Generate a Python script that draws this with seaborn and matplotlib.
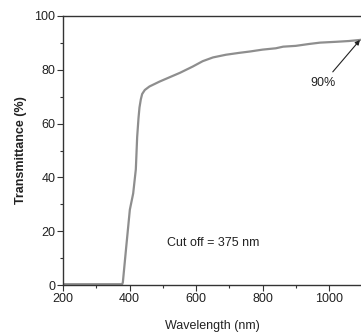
import matplotlib
matplotlib.use("Agg")
import matplotlib.pyplot as plt
import seaborn as sns
import pandas as pd
from matplotlib.ticker import MultipleLocator

# Transmittance spectrum of the film
wavelength = [200, 300, 378, 380, 390, 401, 411, 419, 423, 427, 430, 434, 438,
              446, 460, 490, 520, 552, 590, 620, 651, 690, 730, 762, 800, 840,
              862, 900, 940, 973, 1020, 1060, 1093, 1100]
transmittance = [0.3, 0.3, 0.3, 1.0, 14, 28, 34, 43, 55, 62, 66, 69, 71,
                 72.5, 73.8, 75.6, 77.2, 78.9, 81.2, 83.2, 84.6, 85.6, 86.3, 86.8, 87.5, 88.0,
                 88.6, 88.9, 89.6, 90.1, 90.4, 90.7, 91.1, 91.2]

x_ticks = [200, 400, 600, 800, 1000]
y_ticks = [0, 20, 40, 60, 80, 100]
cutoff_label = "Cut off = 375 nm"
peak_label = "90%"
peak_point = (1093, 91.1)

sns.set_style("ticks")
plt.rcParams["font.family"] = ["Liberation Sans", "DejaVu Sans"]
plt.rcParams["axes.edgecolor"] = "#333333"
plt.rcParams["xtick.color"] = "#333333"
plt.rcParams["ytick.color"] = "#333333"

df = pd.DataFrame({"Wavelength (nm)": wavelength, "Transmittance (%)": transmittance})

fig = plt.figure(figsize=(3.61, 3.34), dpi=100)
ax = fig.add_axes([63 / 361, 49 / 334, 299.3 / 361, 269 / 334])

sns.lineplot(data=df, x="Wavelength (nm)", y="Transmittance (%)", ax=ax,
             color="#8e8e8e", linewidth=1.6, sort=False)

ax.set_xlim(200, 1100)
ax.set_ylim(0, 100)
ax.set_xticks(x_ticks)
ax.set_yticks(y_ticks)
ax.xaxis.set_minor_locator(MultipleLocator(100))
ax.yaxis.set_minor_locator(MultipleLocator(10))
ax.tick_params(which="major", direction="out", length=4, width=0.8, labelsize=9, pad=1.5,
               labelcolor="#222222")
ax.tick_params(which="minor", direction="out", length=2.5, width=0.8)
ax.spines["right"].set_visible(False)
for s in ("left", "bottom", "top"):
    ax.spines[s].set_linewidth(1.0)

ax.set_xlabel("Wavelength (nm)", fontsize=9, color="#222222", labelpad=11)
ax.set_ylabel("Transmittance (%)", fontsize=9, color="#222222", fontweight="bold", labelpad=5)

ax.text(513, 15.6, cutoff_label, fontsize=9, va="center", ha="left", color="#222222")
ax.annotate(peak_label, xy=peak_point, xytext=(982, 75), fontsize=9, ha="center",
            va="center", color="#222222",
            arrowprops=dict(arrowstyle="-|>", color="#222222", lw=0.8,
                            mutation_scale=7, shrinkA=2, shrinkB=0))

fig.savefig("out.png", dpi=100)
